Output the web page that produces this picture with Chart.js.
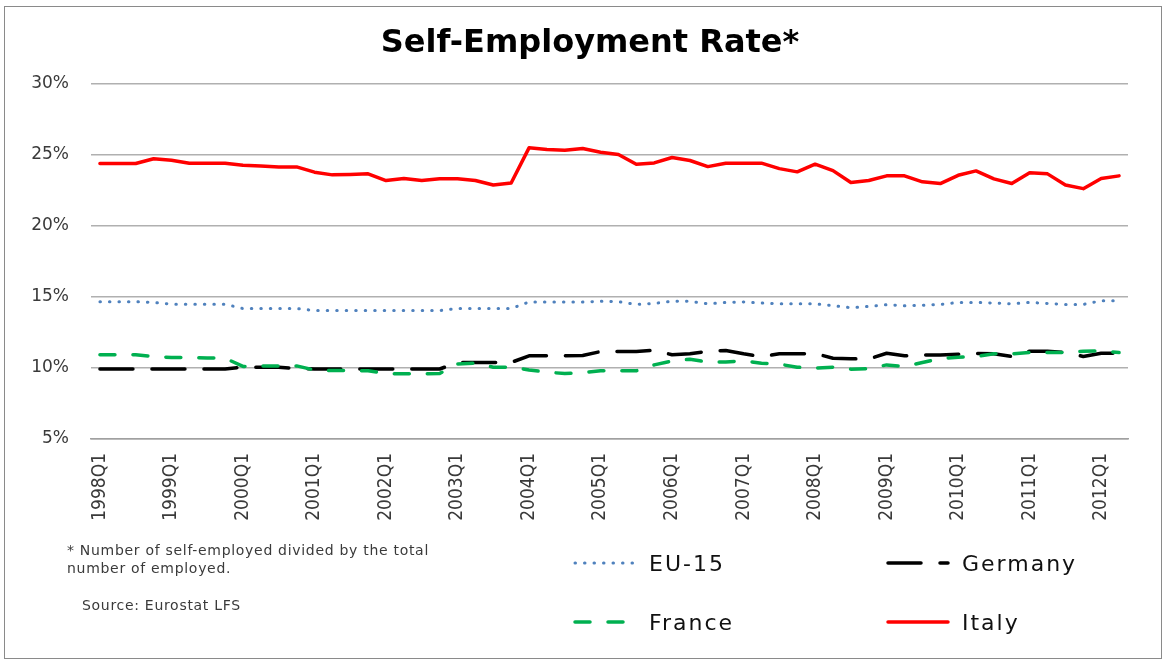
<!DOCTYPE html>
<html>
<head>
<meta charset="utf-8">
<title>Self-Employment Rate</title>
<script src="https://cdn.jsdelivr.net/npm/chart.js@4.4.1/dist/chart.umd.min.js"></script>
<style>
  html, body { margin: 0; padding: 0; background: #fff; }
  #wrap { position: relative; width: 1166px; height: 664px; overflow: hidden; }
  #wrap canvas { position: absolute; left: 0; top: 0; }
  #frame { position: absolute; left: 4px; top: 6px; width: 1156px; height: 651px; border: 1px solid #8a8a8a; pointer-events: none; }
  .note { position: absolute; font-family: 'DejaVu Sans', sans-serif; font-size: 14px; letter-spacing: 0.7px; line-height: 18px; color: #3a3a3a; white-space: nowrap; }
  .legend-item { position: absolute; height: 30px; display: flex; align-items: center; font-family: 'DejaVu Sans', sans-serif; font-size: 22px; letter-spacing: 2px; color: #111; white-space: nowrap; }
  .legend-item svg { width: 64px; height: 10px; margin-right: 12px; flex: none; }
</style>
</head>
<body>
<div id="wrap">
  <canvas id="chart" width="1166" height="664"></canvas>
  <div id="frame"></div>
  <div class="note" style="left:67px; top:541px;">* Number of self-employed divided by the total<br>number of employed.</div>
  <div class="note" style="left:82px; top:596px;">Source: Eurostat LFS</div>
  <div id="legend"></div>
</div>
<script>
const quarters = [
  '1998Q1','1998Q2','1998Q3','1998Q4',
  '1999Q1','1999Q2','1999Q3','1999Q4',
  '2000Q1','2000Q2','2000Q3','2000Q4',
  '2001Q1','2001Q2','2001Q3','2001Q4',
  '2002Q1','2002Q2','2002Q3','2002Q4',
  '2003Q1','2003Q2','2003Q3','2003Q4',
  '2004Q1','2004Q2','2004Q3','2004Q4',
  '2005Q1','2005Q2','2005Q3','2005Q4',
  '2006Q1','2006Q2','2006Q3','2006Q4',
  '2007Q1','2007Q2','2007Q3','2007Q4',
  '2008Q1','2008Q2','2008Q3','2008Q4',
  '2009Q1','2009Q2','2009Q3','2009Q4',
  '2010Q1','2010Q2','2010Q3','2010Q4',
  '2011Q1','2011Q2','2011Q3','2011Q4',
  '2012Q1','2012Q2'
];

// self-employed as % of total employment
const eu15 = [
  14.65, 14.65, 14.65, 14.60, 14.48, 14.48, 14.48, 14.48, 14.17, 14.17,
  14.17, 14.17, 14.03, 14.03, 14.03, 14.03, 14.03, 14.03, 14.03, 14.03,
  14.17, 14.17, 14.17, 14.17, 14.63, 14.63, 14.63, 14.63, 14.68, 14.65,
  14.46, 14.53, 14.69, 14.68, 14.50, 14.60, 14.63, 14.56, 14.50, 14.50,
  14.50, 14.37, 14.23, 14.32, 14.44, 14.37, 14.40, 14.46, 14.60, 14.60,
  14.56, 14.50, 14.60, 14.53, 14.46, 14.46, 14.72, 14.72
];
const germany = [
  9.92, 9.92, 9.92, 9.92, 9.92, 9.92, 9.92, 9.92, 10.05, 10.05,
  10.05, 9.96, 9.92, 9.92, 9.92, 9.92, 9.92, 9.92, 9.92, 9.92,
  10.38, 10.38, 10.38, 10.38, 10.85, 10.85, 10.85, 10.87, 11.15, 11.15,
  11.15, 11.24, 10.92, 10.99, 11.17, 11.22, 10.99, 10.80, 10.99, 10.99,
  11.01, 10.68, 10.64, 10.62, 11.03, 10.85, 10.90, 10.90, 10.96, 11.01,
  10.99, 10.80, 11.17, 11.17, 11.08, 10.80, 11.03, 11.03
];
const france = [
  10.92, 10.92, 10.92, 10.80, 10.73, 10.72, 10.70, 10.68, 10.10, 10.14,
  10.14, 10.14, 9.85, 9.81, 9.81, 9.80, 9.60, 9.58, 9.58, 9.60,
  10.28, 10.33, 10.05, 10.05, 9.85, 9.70, 9.60, 9.67, 9.80, 9.80,
  9.80, 10.21, 10.49, 10.61, 10.40, 10.42, 10.49, 10.33, 10.26, 10.05,
  9.98, 10.05, 9.91, 9.95, 10.21, 10.10, 10.38, 10.66, 10.75, 10.80,
  10.99, 10.99, 11.08, 11.08, 11.08, 11.17, 11.20, 11.08
];
const italy = [
  24.37, 24.37, 24.37, 24.70, 24.60, 24.39, 24.39, 24.39, 24.25, 24.20,
  24.13, 24.13, 23.76, 23.57, 23.60, 23.64, 23.17, 23.31, 23.17, 23.29,
  23.29, 23.17, 22.86, 23.00, 25.47, 25.35, 25.30, 25.42, 25.16, 25.00,
  24.32, 24.41, 24.79, 24.58, 24.15, 24.39, 24.39, 24.39, 24.01, 23.78,
  24.32, 23.87, 23.03, 23.17, 23.50, 23.50, 23.08, 22.96, 23.54, 23.85,
  23.29, 22.96, 23.71, 23.64, 22.86, 22.60, 23.31, 23.50
];

const yMin = 5;
const yMax = 30;
const yStep = 5;

const gridColor = '#b0b0b0';
const tickColor = '#3a3a3a';

function line(label, data, color, width, dash, order) {
  return {
    label: label,
    data: data,
    borderColor: color,
    backgroundColor: color,
    borderWidth: width,
    borderDash: dash,
    borderCapStyle: 'round',
    borderJoinStyle: 'round',
    pointRadius: 0,
    tension: 0,
    fill: false,
    order: order
  };
}

const datasets = [
  line('EU-15', eu15, '#4F81BD', 3, [0.5, 9], 3),
  line('Germany', germany, '#000000', 3.5, [33, 19], 2),
  line('France', france, '#00B050', 3.5, [15, 18], 1),
  line('Italy', italy, '#FF0000', 3.5, [], 0)
];

const ctx = document.getElementById('chart').getContext('2d');
const chart = new Chart(ctx, {
  type: 'line',
  data: { labels: quarters, datasets: datasets },
  options: {
    responsive: false,
    animation: false,
    layout: { padding: { left: 14, right: 0, top: 0, bottom: 0 } },
    plugins: {
      legend: { display: false },
      tooltip: { enabled: false },
      title: {
        display: true,
        text: 'Self-Employment Rate*',
        color: '#000',
        font: { family: "'DejaVu Sans', sans-serif", size: 32, weight: 'bold' },
        padding: { top: 24, bottom: 21 }
      }
    },
    scales: {
      x: {
        offset: true,
        grid: { display: false, drawTicks: false },
        border: { display: true, color: '#a0a0a0', width: 1.5 },
        ticks: {
          autoSkip: false,
          maxRotation: 90,
          minRotation: 90,
          padding: 14,
          color: tickColor,
          font: { family: "'DejaVu Sans Condensed', 'DejaVu Sans', sans-serif", size: 19 },
          callback: function (val, idx) {
            return idx % 4 === 0 ? this.getLabelForValue(val) : '';
          }
        },
        afterFit: function (scale) { scale.height = 225; }
      },
      y: {
        min: yMin,
        max: yMax,
        grid: { color: gridColor, lineWidth: 1.5, drawTicks: false },
        border: { display: false },
        ticks: {
          stepSize: yStep,
          padding: 22,
          color: tickColor,
          font: { family: "'DejaVu Sans', sans-serif", size: 17 },
          callback: function (v) { return v + '%'; }
        },
        afterFit: function (scale) { scale.width = 77; }
      },
      // empty right-hand margin so the plot stops short of the frame
      yRight: {
        position: 'right',
        grid: { display: false, drawTicks: false },
        border: { display: false },
        ticks: { display: false },
        afterFit: function (scale) { scale.width = 38; }
      }
    }
  }
});

// two-column legend under the plot, built from the dataset styles
const legendSlots = [
  { left: 573, top: 548 },
  { left: 886, top: 548 },
  { left: 573, top: 607 },
  { left: 886, top: 607 }
];
const legendBox = document.getElementById('legend');
chart.data.datasets.forEach(function (ds, i) {
  const item = document.createElement('div');
  item.className = 'legend-item';
  item.style.left = legendSlots[i].left + 'px';
  item.style.top = legendSlots[i].top + 'px';
  const dash = ds.borderDash.length ? ds.borderDash.join(' ') : 'none';
  item.innerHTML =
    '<svg viewBox="0 0 64 10"><line x1="2" y1="5" x2="62" y2="5" stroke="' + ds.borderColor +
    '" stroke-width="' + ds.borderWidth + '" stroke-dasharray="' + dash +
    '" stroke-linecap="round"/></svg><span>' + ds.label + '</span>';
  legendBox.appendChild(item);
});
</script>
</body>
</html>
